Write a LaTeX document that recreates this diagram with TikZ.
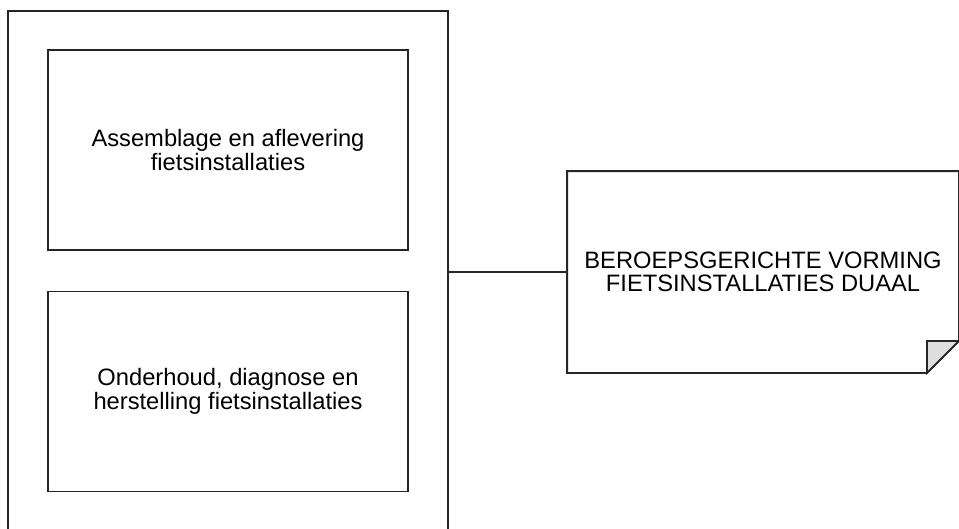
\documentclass[tikz,border=0pt]{standalone}
\usepackage{fontspec}
\setmainfont{Liberation Sans}
\usetikzlibrary{positioning}
\tikzstyle{box} = [rectangle, draw=black!85, line width=1.05pt, align=center, font=\fontsize{13.5}{13.4}\selectfont]
\tikzstyle{line} = [draw=black!85, line width=1.05pt]

\begin{document}
\begin{tikzpicture}
	\def\fold{0.64}
	\useasboundingbox (0,0) rectangle (19.18,-10.56);
	\clip (0,0) rectangle (19.18,-10.56);
	\node[box, minimum width=8.8cm, minimum height=10.44cm] (module) at (4.56,-5.44) {};
	\node[box, minimum width=7.2cm, minimum height=4cm] (assemblage) at (4.56,-3.0) {Assemblage en aflevering\\fietsinstallaties};
	\node[box, minimum width=7.2cm, minimum height=4cm] (onderhoud) at (4.56,-7.83) {Onderhoud, diagnose en\\herstelling fietsinstallaties};
	\node[box, draw=none, minimum width=7.8cm, minimum height=4cm] (vorming) at (15.26,-5.44) {BEROEPSGERICHTE VORMING\\FIETSINSTALLATIES DUAAL};

	% note with folded corner
	\draw[line] (vorming.north west) -- (vorming.north east) -- ([yshift=\fold cm]vorming.south east) -- ([xshift=-\fold cm]vorming.south east) -- (vorming.south west) -- cycle;
	\draw[line, fill=gray!25] ([xshift=-\fold cm]vorming.south east) -- ([xshift=-\fold cm, yshift=\fold cm]vorming.south east) -- ([yshift=\fold cm]vorming.south east) -- cycle;

	\path [line] (module.east) -- (vorming.west);
\end{tikzpicture}
\end{document}
